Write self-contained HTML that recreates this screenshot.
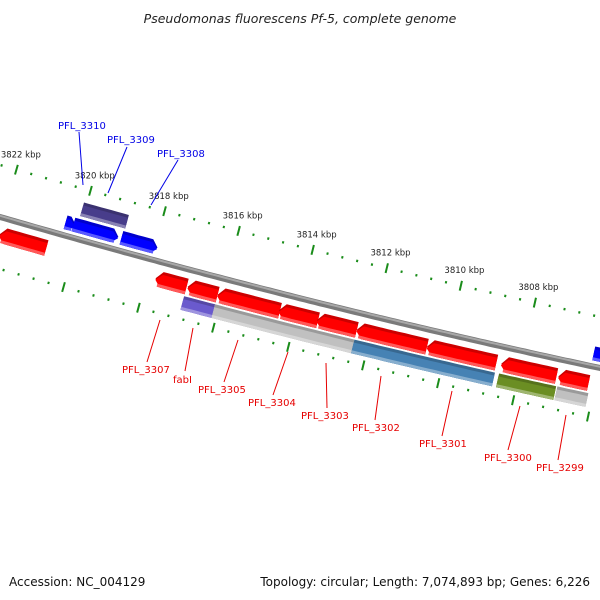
<!DOCTYPE html>
<html><head><meta charset="utf-8">
<style>
body{margin:0;background:#fff;}
svg{display:block;font-family:"DejaVu Sans","Liberation Sans",sans-serif;}
</style></head>
<body>
<svg width="600" height="600" viewBox="0 0 600 600">
<text x="300" y="23" text-anchor="middle" font-size="12.5" font-style="italic" fill="#222">Pseudomonas fluorescens Pf-5, complete genome</text>
<g id="ticks"></g>
<path id="backbone" fill="none"/>
<path id="backbone-hl" fill="none"/>
<g id="genes"></g>
<g id="labels"></g>
<text x="9" y="586" font-size="12" fill="#111">Accession: NC_004129</text>
<text x="590" y="586" font-size="12" fill="#111" text-anchor="end">Topology: circular; Length: 7,074,893 bp; Genes: 6,226</text>
</svg>
<script>
const kbpTicks=[3822,3820,3818,3816,3814,3812,3810,3808,3806];
const tickLabels=["3822 kbp","3820 kbp","3818 kbp","3816 kbp","3814 kbp","3812 kbp","3810 kbp","3808 kbp",""];
// genes: start kbp, end kbp, track, color, arrow direction
const geneStart=[3821.96,3817.77,3816.91,3816.11,3814.47,3813.45,3812.38,3810.50,3808.51,3806.98, 3816.94,3816.11,3812.38,3808.51,3806.95, 3820.40,3820.19,3818.90,3806.20, 3820.08];
const geneEnd  =[3820.70,3816.94,3816.11,3814.44,3813.42,3812.38,3810.50,3808.64,3807.03,3806.17, 3816.11,3812.38,3808.62,3806.98,3806.12, 3820.13,3818.98,3817.93,3805.70, 3818.87];
const geneTrack=["r","r","r","r","r","r","r","r","r","r", "s","s","s","s","s", "b","b","b","b", "p"];
const geneColor=["#ff0000","#ff0000","#ff0000","#ff0000","#ff0000","#ff0000","#ff0000","#ff0000","#ff0000","#ff0000",
 "#6a5acd","#c0c0c0","#4682b4","#6b8e23","#c0c0c0", "#0000ff","#0000ff","#0000ff","#0000ff","#483d8b"];
const geneDir=[-1,-1,-1,-1,-1,-1,-1,-1,-1,-1, 0,0,0,0,0, 1,1,1,1, 0];
const geneNames=["","PFL_3307","fabI","PFL_3305","PFL_3304","PFL_3303","PFL_3302","PFL_3301","PFL_3300","PFL_3299","","","","","","","PFL_3310","PFL_3309","PFL_3308"];

const NS="http://www.w3.org/2000/svg";
function yB(x){const t=x/600;return (1-t)*(1-t)*217+2*t*(1-t)*304+t*t*368;}
function slope(x){const t=x/600;return (174*(1-t)+128*t)/600;}
function pt(bx,d){const s=slope(bx),n=Math.sqrt(1+s*s);return [bx-d*s/n,yB(bx)+d/n];}
function xOf(k){return 77+(3820-k)*37.25;}
const tracks={r:[9,25],s:[27,41],b:[-20,-6],p:[-37,-23]};

let d="";for(let x=-10;x<=610;x+=5){const p=pt(x,0);d+=(x==-10?"M":"L")+p[0].toFixed(1)+","+p[1].toFixed(1);}
const bb=document.getElementById('backbone');bb.setAttribute('d',d);bb.setAttribute('stroke','#7a7a7a');bb.setAttribute('stroke-width','6');
const bh=document.getElementById('backbone-hl');let d2="";for(let x=-10;x<=610;x+=5){const p=pt(x,-1.2);d2+=(x==-10?"M":"L")+p[0].toFixed(1)+","+p[1].toFixed(1);}
bh.setAttribute('d',d2);bh.setAttribute('stroke','#a8a8a8');bh.setAttribute('stroke-width','2');

const tg=document.getElementById('ticks');
function line(g,a,b,c,w,name){const l=document.createElementNS(NS,'line');l.setAttribute('x1',a[0]);l.setAttribute('y1',a[1]);l.setAttribute('x2',b[0]);l.setAttribute('y2',b[1]);l.setAttribute('stroke',c);l.setAttribute('stroke-width',w);


g.appendChild(l);}
for(let k=3823.2;k>=3804.5;k-=0.4){
  const kk=Math.round(k*10)/10;const bx=xOf(kk);const major=Math.abs(kk-Math.round(kk/2)*2)<0.05;
  [-50,50].forEach(off=>{const h=major?5:1.2;line(tg,pt(bx,off-h),pt(bx,off+h),'#1a8c1a',2,major?'major-tick':'minor-tick');});
}
kbpTicks.forEach((k,i)=>{if(!tickLabels[i])return;const p=pt(xOf(k),-66);const t=document.createElementNS(NS,'text');
t.setAttribute('x',p[0]);t.setAttribute('y',p[1]+3);t.setAttribute('text-anchor','middle');t.setAttribute('font-size','8.5');t.setAttribute('fill','#222');t.textContent=tickLabels[i];


tg.appendChild(t);});

function shade(c,f){const n=parseInt(c.slice(1),16);let r=n>>16,g=(n>>8)&255,b=n&255;
 if(f>0){r+= (255-r)*f;g+=(255-g)*f;b+=(255-b)*f;}else{r*=1+f;g*=1+f;b*=1+f;}
 return 'rgb('+Math.round(r)+','+Math.round(g)+','+Math.round(b)+')';}
const gg=document.getElementById('genes');
function poly(pts,fill,name){const p=document.createElementNS(NS,'polygon');p.setAttribute('points',pts.map(q=>q[0].toFixed(1)+","+q[1].toFixed(1)).join(' '));p.setAttribute('fill',fill);


gg.appendChild(p);}
function shape(x1,x2,d1,d2,dir){const ah=6;const pts=[];const a=dir<0?x1+ah:x1,b=dir>0?x2-ah:x2;
 const N=Math.max(2,Math.ceil((b-a)/6));
 for(let i=0;i<=N;i++)pts.push(pt(a+(b-a)*i/N,d1));
 if(dir>0)pts.push(pt(x2,(d1+d2)/2));
 for(let i=N;i>=0;i--)pts.push(pt(a+(b-a)*i/N,d2));
 if(dir<0)pts.push(pt(x1,(d1+d2)/2));
 return pts;}
geneStart.forEach((s,i)=>{
 const x1=xOf(s),x2=xOf(geneEnd[i]);const tr=tracks[geneTrack[i]];const c=geneColor[i];const dir=geneDir[i];
 poly(shape(x1,x2,tr[0],tr[1],dir),shade(c,-0.2),'gene-'+(geneNames[i]||i));
 poly(shape(x1,x2,tr[0]+3,tr[1],dir),c,'gene-body');
 poly(shape(x1+(dir<0?3:0),x2-(dir>0?3:0),tr[1]-3,tr[1],0),shade(c,0.35),'gene-shade');
});

const lg=document.getElementById('labels');
const labs=[["PFL_3310",58,129,"#0000e6",79,132,83,185],["PFL_3309",107,143,"#0000e6",127,147,108,193],["PFL_3308",157,157,"#0000e6",178,160,151,205],
["PFL_3307",122,373,"#e60000",147,362,160,320],["fabI",173,383,"#e60000",185,371,193,328],["PFL_3305",198,393,"#e60000",224,382,238,340],
["PFL_3304",248,406,"#e60000",273,395,288,352],["PFL_3303",301,419,"#e60000",327,408,326,363],["PFL_3302",352,431,"#e60000",375,420,381,376],
["PFL_3301",419,447,"#e60000",442,436,452,391],["PFL_3300",484,461,"#e60000",508,450,520,406],["PFL_3299",536,471,"#e60000",558,460,566,415]];
labs.forEach(L=>{line(lg,[L[4],L[5]],[L[6],L[7]],L[3],1,'label-leader');
 const t=document.createElementNS(NS,'text');t.setAttribute('x',L[1]);t.setAttribute('y',L[2]);t.setAttribute('font-size','10');t.setAttribute('fill',L[3]);t.textContent=L[0];
 
 
 lg.appendChild(t);});
</script>
</body></html>
